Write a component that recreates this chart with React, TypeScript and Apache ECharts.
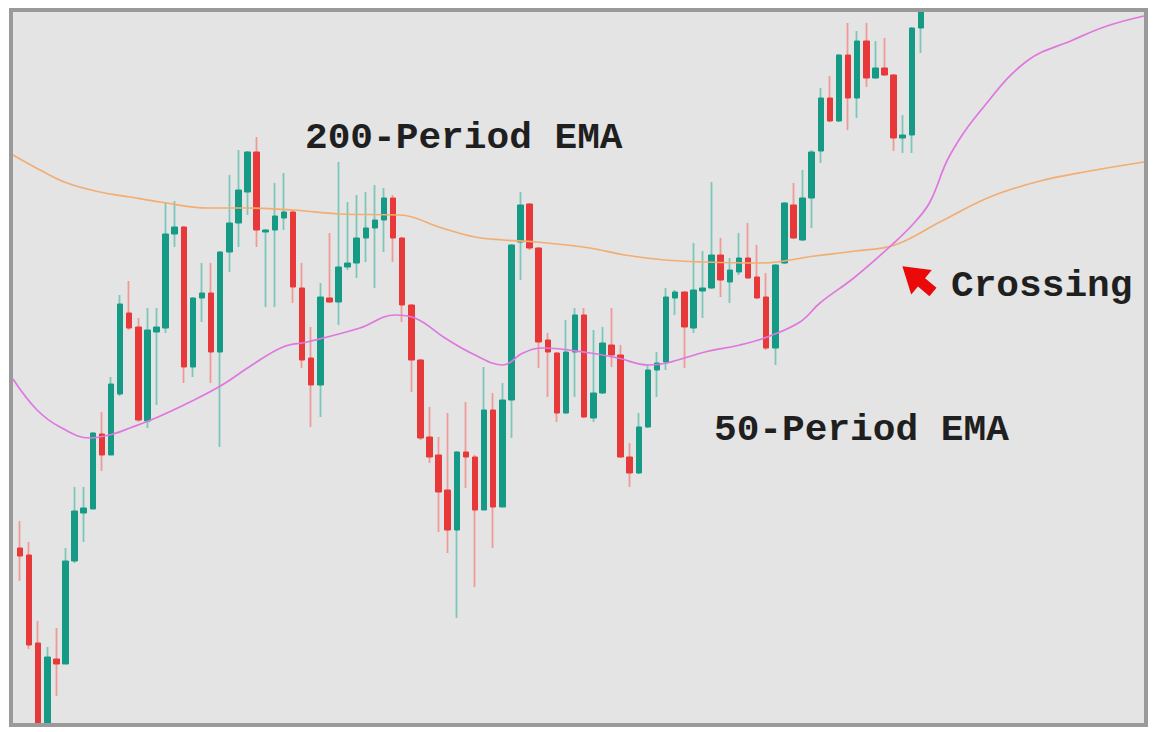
import React, { useEffect, useRef } from "react";
import * as echarts from "echarts";

// Candles: [open, close, low, high]
const candles: number[][] = [
  [117.5, 116.7, 114.2, 120.2], [116.8, 107.8, 107.4, 118.1], [108.0, 99.5, 99.1, 110.2], [99.5, 106.6, 99.1, 107.6],
  [106.4, 105.9, 102.7, 109.5], [105.9, 116.2, 105.9, 117.5], [116.2, 121.2, 116.0, 123.6], [121.0, 121.5, 118.1, 123.6],
  [121.4, 129.0, 121.4, 129.1], [128.9, 126.8, 125.2, 131.1], [126.8, 133.9, 126.8, 134.6], [132.9, 141.9, 132.7, 142.8],
  [141.0, 139.5, 139.3, 144.2], [139.6, 130.3, 130.1, 140.5], [130.2, 139.3, 129.5, 141.5], [139.1, 139.6, 131.8, 141.5],
  [139.5, 148.9, 139.0, 152.1], [148.9, 149.6, 147.6, 152.2], [149.6, 135.6, 134.0, 149.7], [135.6, 142.5, 134.6, 142.6],
  [142.5, 143.0, 140.1, 146.0], [143.0, 137.1, 134.0, 146.0], [137.1, 147.1, 127.6, 147.2], [147.1, 150.0, 145.1, 154.8],
  [150.0, 153.3, 147.6, 157.3], [153.1, 157.1, 150.8, 157.2], [157.1, 149.3, 147.6, 158.6], [149.1, 149.3, 141.6, 149.4],
  [149.3, 150.7, 141.6, 154.0], [150.5, 151.1, 149.3, 155.0], [151.1, 143.6, 142.0, 151.3], [143.5, 136.3, 135.5, 146.0],
  [136.5, 133.8, 129.6, 139.6], [133.8, 142.6, 130.6, 144.0], [142.5, 142.1, 142.0, 149.0], [142.1, 145.6, 139.8, 156.1],
  [145.6, 146.0, 145.3, 152.1], [146.0, 148.5, 144.5, 152.8], [148.5, 149.5, 146.1, 153.1], [149.5, 150.3, 143.5, 153.8],
  [150.3, 152.5, 147.1, 153.5], [152.5, 148.5, 146.1, 152.8], [148.5, 141.8, 140.1, 148.6], [141.8, 136.3, 133.1, 141.9],
  [136.3, 128.5, 128.3, 136.4], [128.6, 126.6, 126.0, 131.6], [126.8, 123.1, 119.1, 128.6], [123.3, 119.3, 117.0, 131.0],
  [119.3, 127.1, 110.5, 127.2], [127.1, 126.6, 123.5, 132.1], [126.6, 121.3, 113.6, 126.8], [121.3, 131.3, 121.3, 135.6],
  [131.3, 121.6, 117.5, 133.0], [121.6, 132.3, 121.6, 134.0], [132.3, 147.8, 128.5, 147.9], [148.1, 151.8, 144.3, 153.1],
  [151.9, 147.5, 147.3, 152.0], [147.5, 138.1, 135.5, 147.6], [138.3, 137.1, 132.6, 139.0], [137.0, 131.0, 130.1, 137.1],
  [131.0, 137.1, 130.9, 140.3], [137.1, 140.8, 132.6, 141.5], [140.8, 130.6, 130.5, 141.5], [130.5, 133.0, 130.1, 139.3],
  [133.0, 138.0, 132.9, 139.6], [137.8, 136.8, 135.6, 141.5], [136.8, 126.6, 126.5, 137.8], [126.6, 125.0, 123.6, 128.0],
  [125.0, 129.6, 124.9, 131.0], [129.6, 135.3, 129.5, 135.8], [135.3, 136.0, 132.6, 137.1], [136.1, 142.6, 135.3, 143.5],
  [142.5, 143.1, 140.8, 143.3], [143.1, 139.6, 135.5, 143.2], [139.5, 143.3, 139.0, 148.0], [143.2, 143.5, 140.5, 147.2],
  [143.5, 146.8, 143.4, 154.1], [146.8, 144.3, 142.6, 148.5], [144.1, 145.3, 142.0, 146.5], [145.1, 146.5, 144.8, 149.0],
  [146.5, 144.5, 144.4, 150.0], [144.6, 142.5, 142.4, 147.8], [142.6, 137.5, 137.3, 145.0], [137.5, 145.8, 135.8, 145.9],
  [146.0, 152.0, 145.9, 152.1], [151.8, 148.5, 148.4, 154.0], [148.3, 152.5, 148.2, 155.3], [152.5, 157.1, 149.5, 157.3],
  [157.2, 162.5, 156.0, 163.5], [162.5, 160.2, 160.1, 164.7], [160.2, 166.8, 160.1, 166.9], [166.8, 162.5, 159.3, 170.0],
  [162.5, 168.2, 160.5, 169.2], [168.2, 164.5, 163.6, 170.0], [164.5, 165.5, 164.4, 168.2], [165.5, 164.8, 164.7, 168.5],
  [164.8, 158.5, 157.2, 164.9], [158.5, 158.8, 157.0, 160.8], [158.8, 169.5, 157.0, 169.6], [169.5, 171.8, 167.0, 172.3],
];

// EMA lines: [position (candle index), value]
const ema200: number[][] = [
  [-0.77, 156.8], [2.2, 155.3], [5.16, 154.0], [8.79, 153.1], [12.09, 152.6], [15.38, 152.1], [20.66, 151.5],
  [24.73, 151.5], [30.0, 151.3], [35.16, 150.9], [41.76, 150.8], [46.37, 149.5], [50.0, 148.6], [53.08, 148.3],
  [56.81, 148.1], [62.64, 147.5], [66.48, 146.8], [70.88, 146.3], [75.27, 146.1], [81.32, 146.0], [87.36, 146.7],
  [91.76, 147.2], [96.15, 147.8], [101.1, 150.1], [106.59, 152.6], [112.09, 154.2], [117.58, 155.2], [123.52, 156.1],
];
const ema50: number[][] = [
  [-0.77, 134.4], [1.87, 131.3], [4.4, 129.6], [7.69, 128.5], [10.22, 128.9], [12.09, 129.5], [15.16, 130.6],
  [18.9, 132.2], [22.2, 133.8], [25.5, 135.8], [28.9, 137.6], [31.54, 138.1], [37.36, 139.5], [41.21, 140.8],
  [43.41, 140.5], [46.7, 138.5], [50.0, 136.8], [53.08, 135.8], [55.27, 137.0], [57.47, 137.5], [62.64, 137.0],
  [65.71, 136.5], [69.01, 135.8], [71.1, 136.0], [75.27, 137.1], [79.12, 137.8], [82.09, 138.6], [85.71, 140.1],
  [87.91, 142.0], [91.76, 144.6], [96.15, 148.1], [98.35, 150.1], [100.0, 152.1], [102.2, 156.8], [105.8, 161.5],
  [110.66, 166.2], [115.71, 168.3], [119.45, 169.7], [123.52, 170.7],
];

const labelTexts = ["200-Period EMA", "50-Period EMA", "Crossing"];

const UP = "#159a86";
const DOWN = "#e8393a";
const UP_WICK = "#7cc7ba";
const DOWN_WICK = "#ee9a98";

export default function App() {
  const ref = useRef<HTMLDivElement>(null);
  useEffect(() => {
    if (!ref.current) return;
    const chart = echarts.init(ref.current, undefined, { renderer: "svg" });
    const wickData = candles.map((c, i) => [i, c[0], c[1], c[2], c[3]]);
    const bodyData = candles.map((c, i) => [i, c[0], c[1], Math.min(c[0], c[1]), Math.max(c[0], c[1])]);

    // arrow polygon pointing along +x, rotated up-left
    const arrowPts = [
      [0, -5.5], [15, -5.5], [15, -16], [40, 0], [15, 16], [15, 5.5], [0, 5.5],
    ];
    const ang = (140 * Math.PI) / 180;
    const ax = 933, ay = 292;
    const rotPts = arrowPts.map(([px, py]) => [
      ax + px * Math.cos(ang) + py * Math.sin(ang),
      ay - px * Math.sin(ang) + py * Math.cos(ang),
    ]);

    const textStyleBase = {
      fill: "#1f1f1f",
      font: "bold 37.8px 'Liberation Mono', 'Courier New', monospace",
      verticalAlign: "middle",
    } as any;

    chart.setOption({
      animation: false,
      backgroundColor: "#ffffff",
      grid: { left: 13, right: 16, top: 12, bottom: 9 },
      xAxis: {
        type: "value",
        min: -0.77,
        max: 123.52,
        show: false,
        splitLine: { show: false },
      },
      yAxis: {
        type: "value",
        min: 100,
        max: 171.1,
        show: false,
        splitLine: { show: false },
      },
      graphic: [
        {
          type: "rect",
          z: -10,
          silent: true,
          shape: { x: 11, y: 10, width: 1135, height: 715 },
          style: { fill: "#e4e4e4", stroke: "#9a9a9a", lineWidth: 4 },
        },
        // white margins outside the frame (hide anything beyond it)
        { type: "rect", z: 99, silent: true, shape: { x: 0, y: 0, width: 1160, height: 8 }, style: { fill: "#ffffff" } },
        { type: "rect", z: 99, silent: true, shape: { x: 0, y: 727, width: 1160, height: 5 }, style: { fill: "#ffffff" } },
        { type: "rect", z: 99, silent: true, shape: { x: 0, y: 0, width: 9, height: 732 }, style: { fill: "#ffffff" } },
        { type: "rect", z: 99, silent: true, shape: { x: 1148, y: 0, width: 12, height: 732 }, style: { fill: "#ffffff" } },
        {
          type: "rect",
          z: 100,
          silent: true,
          shape: { x: 11, y: 10, width: 1135, height: 715 },
          style: { fill: "none", stroke: "#9a9a9a", lineWidth: 4 },
        },
        {
          type: "text",
          z: 100,
          x: 305,
          y: 138,
          style: { ...textStyleBase, text: labelTexts[0] },
        },
        {
          type: "text",
          z: 100,
          x: 714,
          y: 430,
          style: { ...textStyleBase, text: labelTexts[1] },
        },
        {
          type: "text",
          z: 100,
          x: 951,
          y: 286,
          style: { ...textStyleBase, text: labelTexts[2] },
        },
        {
          type: "polygon",
          z: 100,
          shape: { points: rotPts },
          style: { fill: "#ea0a0a" },
        },
      ],
      series: [
        {
          type: "candlestick",
          clip: true,
          barWidth: 1,
          encode: { x: 0, y: [1, 2, 3, 4] },
          data: wickData,
          itemStyle: {
            color: UP_WICK,
            color0: DOWN_WICK,
            borderColor: UP_WICK,
            borderColor0: DOWN_WICK,
            borderWidth: 1.8,
          },
          silent: true,
        },
        {
          type: "candlestick",
          clip: true,
          barWidth: 6,
          encode: { x: 0, y: [1, 2, 3, 4] },
          data: bodyData,
          itemStyle: {
            color: UP,
            color0: DOWN,
            borderColor: UP,
            borderColor0: DOWN,
            borderWidth: 1,
          },
          silent: true,
        },
        {
          type: "line",
          data: ema200,
          smooth: 0.4,
          showSymbol: false,
          symbol: "none",
          clip: true,
          lineStyle: { color: "#f2ad72", width: 1.7 },
          z: 5,
        },
        {
          type: "line",
          data: ema50,
          smooth: 0.4,
          showSymbol: false,
          symbol: "none",
          clip: true,
          lineStyle: { color: "#df77df", width: 1.7 },
          z: 5,
        },
      ],
    });
    return () => chart.dispose();
  }, []);
  return (
    <div
      ref={ref}
      style={{ position: "fixed", left: 0, top: 0, width: 1160, height: 732 }}
    />
  );
}
